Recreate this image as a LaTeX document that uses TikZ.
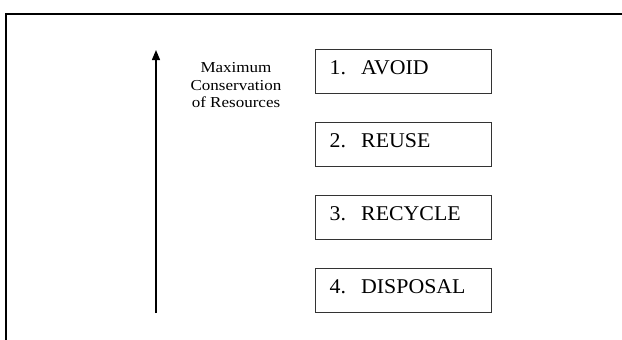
\documentclass[tikz,border=0pt]{standalone}
\usepackage{fontspec}
\setmainfont{Liberation Serif}
\newfontfamily\labelfont[FakeStretch=1.12]{Liberation Serif}
\newfontfamily\boxfont[FakeStretch=1.04]{Liberation Serif}
\usetikzlibrary{arrows.meta}
\begin{document}
\begin{tikzpicture}[x=1pt,y=-1pt,
  stepbox/.style={draw=black!80, line width=0.9pt, minimum width=176pt, minimum height=44pt, inner sep=0pt, anchor=north west},
  steptext/.style={font=\boxfont\fontsize{21}{24}\selectfont, anchor=base west, inner sep=0pt},
  labeltext/.style={font=\labelfont\fontsize{15.2}{17.5}\selectfont, align=center, inner sep=0pt}
]
\useasboundingbox (0,0) rectangle (622,340);
\draw[line width=2.5pt] (6,370) -- (6,14) -- (650,14);
\node[stepbox] (b1) at (315,49) {};
\node[stepbox] (b2) at (315,122) {};
\node[stepbox] (b3) at (315,195) {};
\node[stepbox] (b4) at (315,268) {};
\node[steptext] (t1) at (329.5,74.5) {\makebox[31.5pt][l]{1.}AVOID};
\node[steptext] (t2) at (329.5,147.5) {\makebox[31.5pt][l]{2.}REUSE};
\node[steptext] (t3) at (329.5,220.5) {\makebox[31.5pt][l]{3.}RECYCLE};
\node[steptext] (t4) at (329.5,293.5) {\makebox[31.5pt][l]{4.}DISPOSAL};
\coordinate (abot) at (156,313);
\coordinate (atop) at (156,50);
\draw[line width=1.3pt, -{Triangle[length=10pt,width=8pt]}] (abot) -- (atop);
\node[labeltext] (lab) at (236,85.5) {Maximum\\Conservation\\of Resources};
\end{tikzpicture}
\end{document}
